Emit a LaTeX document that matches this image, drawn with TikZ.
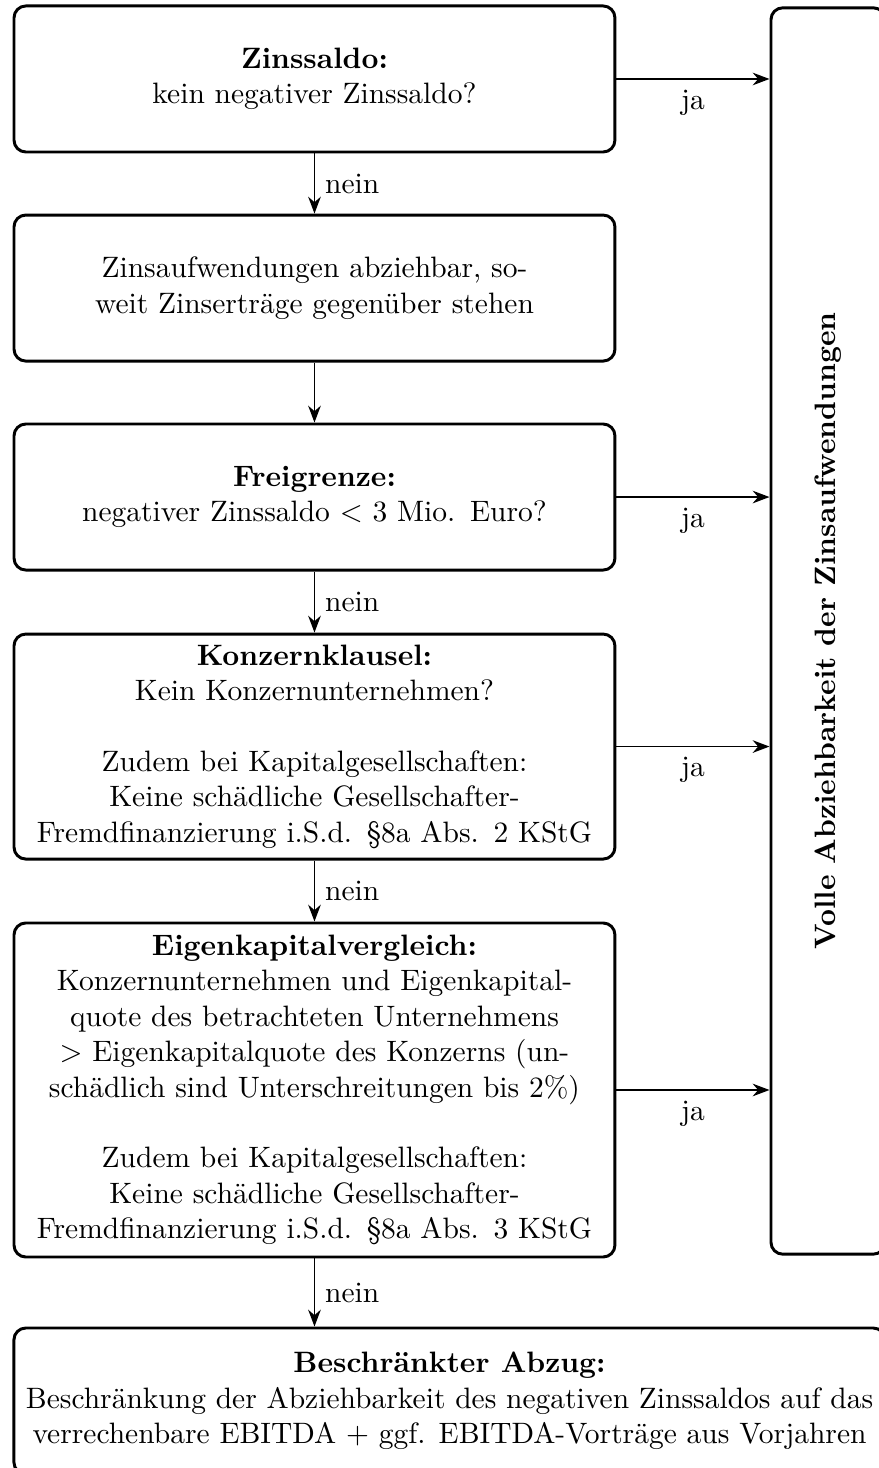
\documentclass[tikz,border=0pt]{standalone}
\usetikzlibrary{arrows.meta}
\tikzset{
every pfeil/.style={semithick, -Stealth},
}

\begin{document}
\begin{tikzpicture}[
                        frage/.style={draw, line width=1pt, rounded corners, align=center, text width=6.8cm, minimum width=7.16cm, minimum height=1.74cm, inner sep=2pt},
                        ziel/.style={draw, line width=1pt, rounded corners, minimum width=1.36cm, minimum height=14.85cm},
                        ende/.style={draw, line width=1pt, rounded corners, align=center, minimum width=10.38cm, minimum height=1.74cm, inner sep=2pt},
                        pfeil/.style={every pfeil},
					]
                    \useasboundingbox (0,0) rectangle (10.473,-17.491);
					\node[frage] (zs) at (3.747,-0.941) {\textbf{Zinssaldo:}\\ kein negativer Zinssaldo?};
					\node[frage] (za) at (3.747,-3.432) {Zinsaufwendungen abziehbar, so-\\ weit Zinserträge gegenüber stehen};
					\node[frage] (fg) at (3.747,-5.922) {\textbf{Freigrenze:}\\ negativer Zinssaldo $<$ 3 Mio. Euro?};
					\node[frage, minimum height=2.681cm] (kk) at (3.747,-8.895) {\textbf{Konzernklausel:}\\ Kein Konzernunternehmen?\\[12pt] Zudem bei Kapitalgesellschaften:\\ Keine schädliche Gesellschafter-\\ Fremdfinanzierung i.S.d. §8a Abs. 2 KStG};
					\node[frage, minimum height=3.98cm] (ek) at (3.747,-12.987) {\textbf{Eigenkapitalvergleich:}\\ Konzernunternehmen und Eigenkapital-\\ quote des betrachteten Unternehmens\\ $>$ Eigenkapitalquote des Konzerns (un-\\ schädlich sind Unterschreitungen bis 2\%)\\[12pt] Zudem bei Kapitalgesellschaften:\\ Keine schädliche Gesellschafter-\\ Fremdfinanzierung i.S.d. §8a Abs. 3 KStG};
					\node[ziel] (voll) at (9.866,-7.518) {};
                    \node[rotate=90, font=\bfseries] (volltext) at (voll) {Volle Abziehbarkeit der Zinsaufwendungen};
					\node[ende] (ba) at (5.356,-16.693) {\textbf{Beschränkter Abzug:}\\ Beschränkung der Abziehbarkeit des negativen Zinssaldos auf das\\ verrechenbare EBITDA + ggf. EBITDA-Vorträge aus Vorjahren};
                    % nein
                    \draw[pfeil] (zs) -- node[right] {nein} (za);
                    \draw[pfeil] (za) -- (fg);
                    \draw[pfeil] (fg) -- node[right] {nein} (kk);
                    \draw[pfeil] (kk) -- node[right] {nein} (ek);
                    \draw[pfeil] (ek.south) -- node[right] {nein} (ek.south |- ba.north);
                    % ja
                    \foreach \n in {zs, fg, kk, ek}
                        \draw[pfeil] (\n.east) -- node[below] {ja} (\n.east -| voll.west);
	\end{tikzpicture}
\end{document}
